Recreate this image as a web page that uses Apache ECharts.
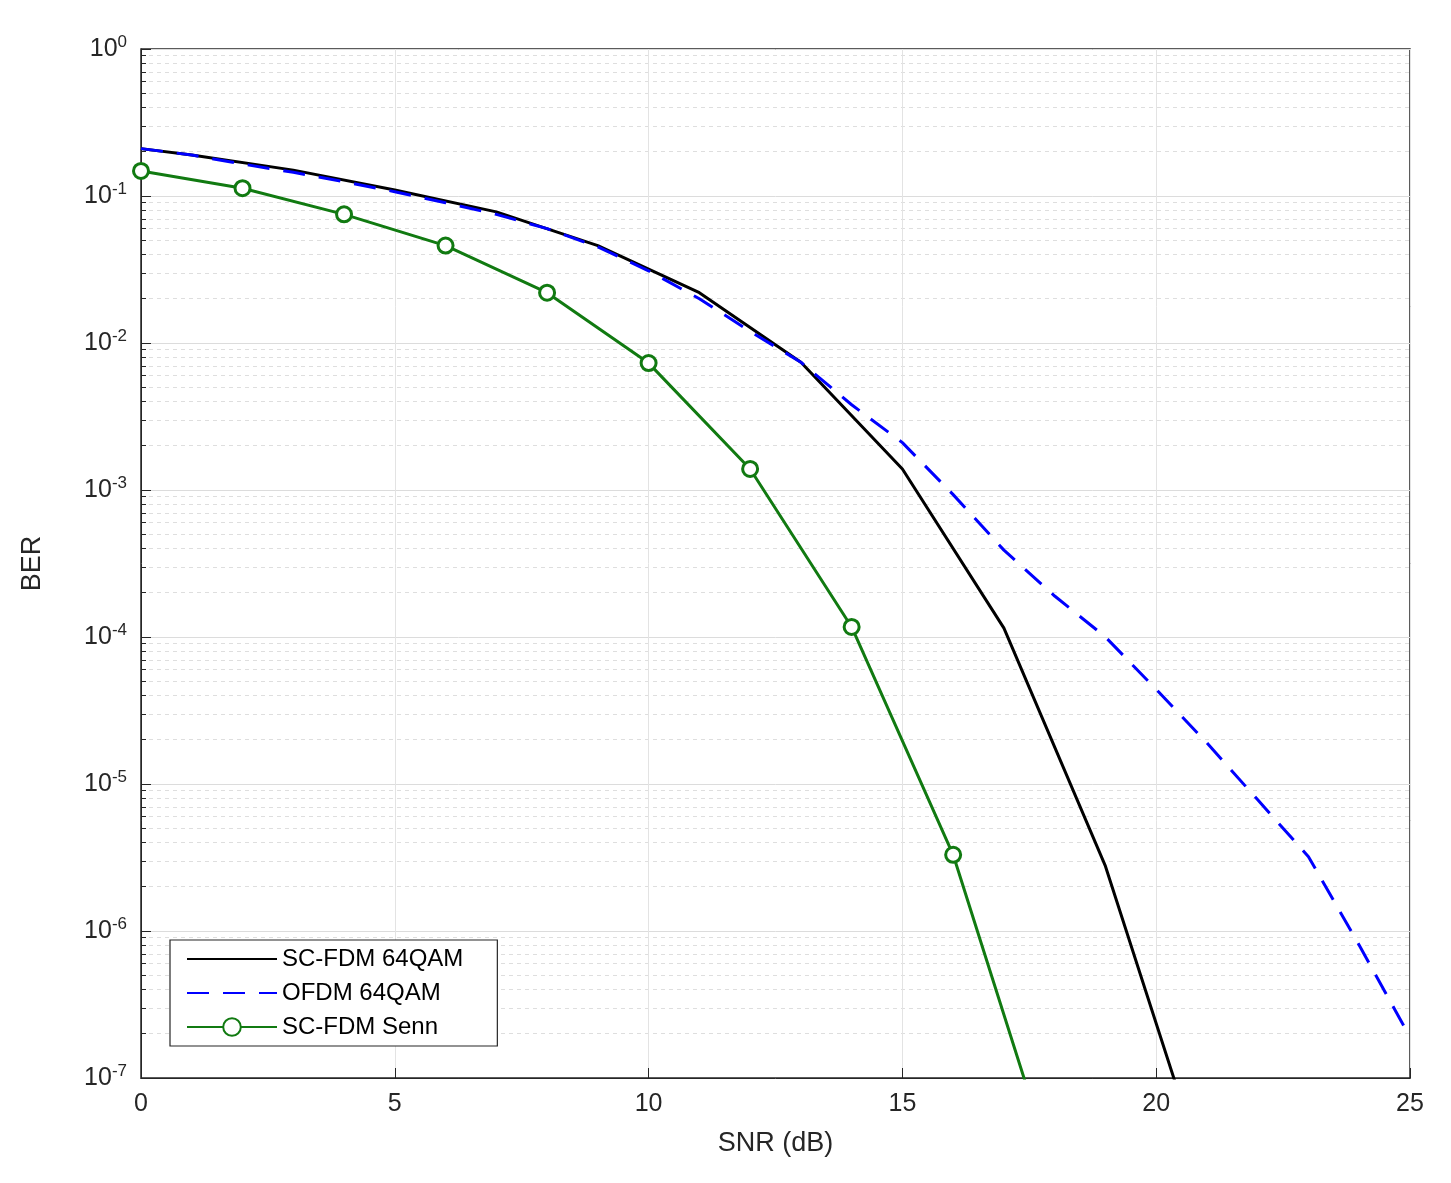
<!DOCTYPE html>
<html>
<head>
<meta charset="utf-8">
<script src="https://cdn.jsdelivr.net/npm/echarts@6/dist/echarts.min.js"></script>
<style>html,body{margin:0;padding:0;background:#fff}#chart{width:1451px;height:1183px}</style>
</head>
<body>
<div id="chart"></div>
<script>
// SNR (dB) and BER values
const scfdmX = [0, 1, 3, 5, 7, 9, 11, 13, 15, 17, 19, 21];
const scfdmBer = [0.21, 0.19, 0.15, 0.11, 0.078, 0.046, 0.022, 0.0074, 0.00139, 1.15e-4, 2.76e-6, 2e-8];

const ofdmX = [0, 1, 2, 3, 4, 5, 6, 7, 8, 9, 10, 11, 12, 13, 14, 15, 16, 17, 18, 19, 20, 21, 22, 23, 24, 25];
const ofdmBer = [0.21, 0.19, 0.165, 0.145, 0.125, 0.107, 0.09, 0.075, 0.06, 0.045, 0.031, 0.02, 0.012, 0.0074,
  0.0038, 0.0021, 9.3e-4, 3.9e-4, 1.9e-4, 1.0e-4, 4.4e-5, 1.9e-5, 7.8e-6, 3.2e-6, 8e-7, 1.9e-7];

const sennX = [0, 2, 4, 6, 8, 10, 12, 14, 16, 18];
const sennBer = [0.148, 0.113, 0.075, 0.046, 0.022, 0.0073, 0.00139, 1.17e-4, 3.3e-6, 2.2e-8];

const seriesNames = ['SC-FDM 64QAM', 'OFDM 64QAM', 'SC-FDM Senn'];

const zip = (xs, ys) => xs.map((x, i) => [x, ys[i]]);
const font = 'Liberation Sans, Arial, sans-serif';

const chart = echarts.init(document.getElementById('chart'));
chart.setOption({
  backgroundColor: '#fff',
  animation: false,
  grid: { left: 141, right: 41, top: 49, bottom: 105, show: true, borderColor: '#262626', borderWidth: 1.5 },
  xAxis: {
    type: 'value', min: 0, max: 25, interval: 5,
    name: 'SNR (dB)', nameLocation: 'middle', nameGap: 52,
    nameTextStyle: { fontFamily: font, fontSize: 27, color: '#262626' },
    axisLabel: { fontFamily: font, fontSize: 25, color: '#262626', margin: 14 },
    axisLine: { lineStyle: { color: '#262626' } },
    axisTick: { inside: true, length: 10, lineStyle: { color: '#262626' } },
    splitLine: { show: true, lineStyle: { color: '#e3e3e3', width: 1 } }
  },
  yAxis: {
    type: 'log', logBase: 10, min: 1e-7, max: 1,
    name: 'BER', nameLocation: 'middle', nameGap: 95,
    nameTextStyle: { fontFamily: font, fontSize: 27, color: '#262626' },
    axisLabel: {
      fontFamily: font, fontSize: 25, color: '#262626', margin: 14,
      formatter: v => '10{s|' + Math.round(Math.log10(v)) + '}',
      rich: { s: { fontFamily: font, fontSize: 17, verticalAlign: 'top', padding: [0, 0, 14, 0], color: '#262626' } }
    },
    axisLine: { lineStyle: { color: '#262626' } },
    axisTick: { inside: true, length: 10, lineStyle: { color: '#262626' } },
    minorTick: { show: true, splitNumber: 9, length: 5, lineStyle: { color: '#262626' } },
    splitLine: { show: true, lineStyle: { color: '#dcdcdc', width: 1 } },
    minorSplitLine: { show: true, lineStyle: { color: '#dedede', width: 1, type: [4, 4] } }
  },
  legend: {
    left: 170, top: 940, orient: 'vertical', itemGap: 10, itemWidth: 90, itemHeight: 22,
    padding: [7, 34, 7, 16], borderColor: '#262626', borderWidth: 1.2, backgroundColor: '#fff',
    textStyle: { fontFamily: font, fontSize: 24, color: '#000' },
    data: [
      { name: seriesNames[0], itemStyle: { opacity: 0 } },
      { name: seriesNames[1], itemStyle: { opacity: 0 } },
      { name: seriesNames[2] }
    ]
  },
  series: [
    { name: seriesNames[0], type: 'line', data: zip(scfdmX, scfdmBer), showSymbol: false, symbol: 'none',
      lineStyle: { color: '#000', width: 3 }, itemStyle: { color: '#000' }, clip: true },
    { name: seriesNames[1], type: 'line', data: zip(ofdmX, ofdmBer), showSymbol: false, symbol: 'none',
      lineStyle: { color: '#0000ff', width: 3, type: [22, 14] }, itemStyle: { color: '#0000ff' }, clip: true },
    { name: seriesNames[2], type: 'line', data: zip(sennX, sennBer), symbol: 'circle', symbolSize: 15,
      lineStyle: { color: '#117a11', width: 3 },
      itemStyle: { color: '#fff', borderColor: '#117a11', borderWidth: 3 }, clip: true }
  ]
});
</script>
</body>
</html>
